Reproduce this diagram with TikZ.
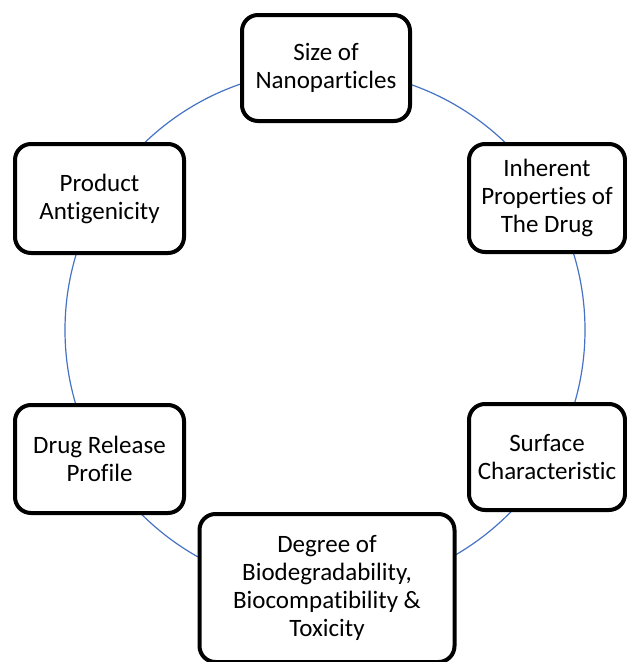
\documentclass[tikz,border=0pt]{standalone}
\usepackage{fontspec}
\setmainfont{Carlito}[Ligatures=NoCommon]
\definecolor{ringblue}{RGB}{68,114,196}
\begin{document}
\begin{tikzpicture}[x=1pt,y=-1pt,
  factor/.style={draw=black, line width=4pt, rounded corners=16pt, fill=white,
    align=center, inner sep=0pt, font=\fontsize{25}{28}\selectfont},
  ring/.style={draw=ringblue, line width=1.2pt}]
\useasboundingbox (0,0) rectangle (627,662);
\clip (0,0) rectangle (627,662);
\coordinate (c) at (325,330);
\draw[ring] (c) circle[radius=260];
\node[factor, minimum width=168pt, minimum height=106pt] (size) at (326,68) {Size of\\Nanoparticles};
\node[factor, minimum width=156pt, minimum height=108pt] (inherent) at (547,198) {Inherent\\Properties of\\The Drug};
\node[factor, minimum width=156pt, minimum height=106pt] (surface) at (547,457) {Surface\\Characteristic};
\node[factor, minimum width=255pt, minimum height=148pt] (bio) at (327,588) {Degree of\\Biodegradability,\\Biocompatibility \&\\Toxicity};
\node[factor, minimum width=169pt, minimum height=108pt] (drug) at (99.5,459) {Drug Release\\Profile};
\node[factor, minimum width=169pt, minimum height=109pt] (antigen) at (99.5,198.5) {Product\\Antigenicity};
\end{tikzpicture}
\end{document}
